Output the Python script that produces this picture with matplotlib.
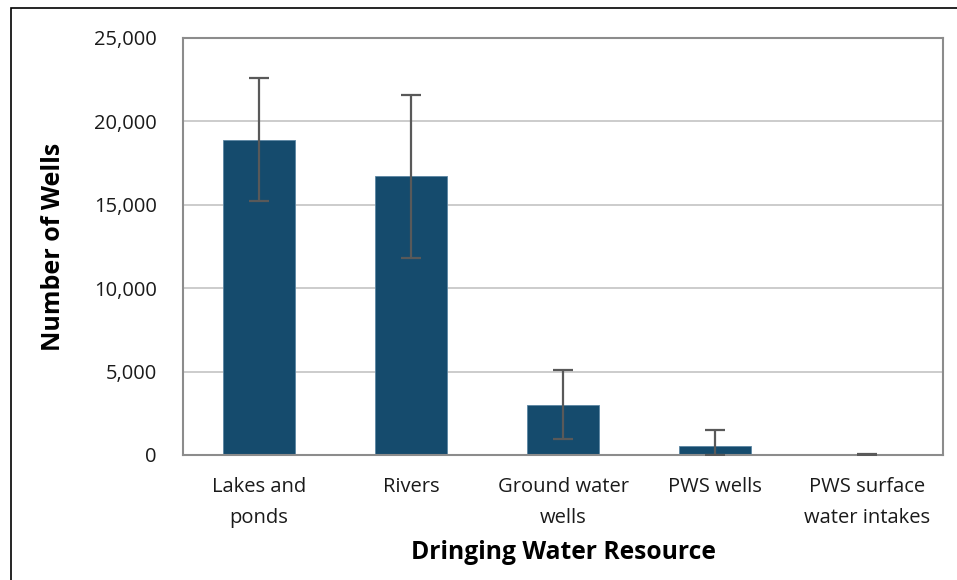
import matplotlib.pyplot as plt
import numpy as np
from matplotlib.patches import Rectangle
from matplotlib.ticker import FuncFormatter

categories = ['Lakes and\nponds', 'Rivers', 'Ground water\nwells', 'PWS wells', 'PWS surface\nwater intakes']
wells = [18900, 16700, 3000, 550, 20]
err_low = [3650, 4900, 2050, 550, 20]
err_high = [3700, 4900, 2100, 950, 20]

plt.rcParams['font.family'] = ['Open Sans', 'DejaVu Sans']

fig = plt.figure(figsize=(9.57, 5.80), dpi=100)
ax = fig.add_axes([183 / 957, 1 - 455 / 580, (943 - 183) / 957, (455 - 38) / 580])

x = np.arange(len(categories))
ax.bar(x, wells, width=0.47, color='#154b6d', edgecolor='#5b86a3', linewidth=0.6, zorder=2)
ax.errorbar(x, wells, yerr=[err_low, err_high], fmt='none', ecolor='#595959',
            elinewidth=1.6, capsize=7, capthick=1.6, zorder=3)

ax.set_xlim(-0.5, len(categories) - 0.5)
ax.set_ylim(0, 25000)
ax.set_yticks(np.arange(0, 25001, 5000))
ax.yaxis.set_major_formatter(FuncFormatter(lambda v, p: f'{int(v):,}'))
ax.set_xticks(x)
ax.set_xticklabels(categories, linespacing=1.75)
ax.grid(axis='y', color='#c4c4c4', linewidth=1.2, zorder=0)
ax.set_axisbelow(True)

for s in ax.spines.values():
    s.set_color('#8c8c8c')
    s.set_linewidth(1.5)

ax.tick_params(axis='both', length=0, labelsize=14.5, colors='#1a1a1a')
ax.tick_params(axis='y', pad=19)
ax.tick_params(axis='x', pad=16)

ax.set_ylabel('Number of Wells', fontsize=18, fontweight='bold', labelpad=20)
ax.set_xlabel('Dringing Water Resource', fontsize=17.7, fontweight='bold', labelpad=8)

# outer chart frame
fig.patches.append(Rectangle((11 / 957, -0.01), 1.0, 1 - 8 / 580 + 0.01, transform=fig.transFigure,
                             fill=False, edgecolor='black', linewidth=1.2))

fig.savefig('out.png', dpi=100)
